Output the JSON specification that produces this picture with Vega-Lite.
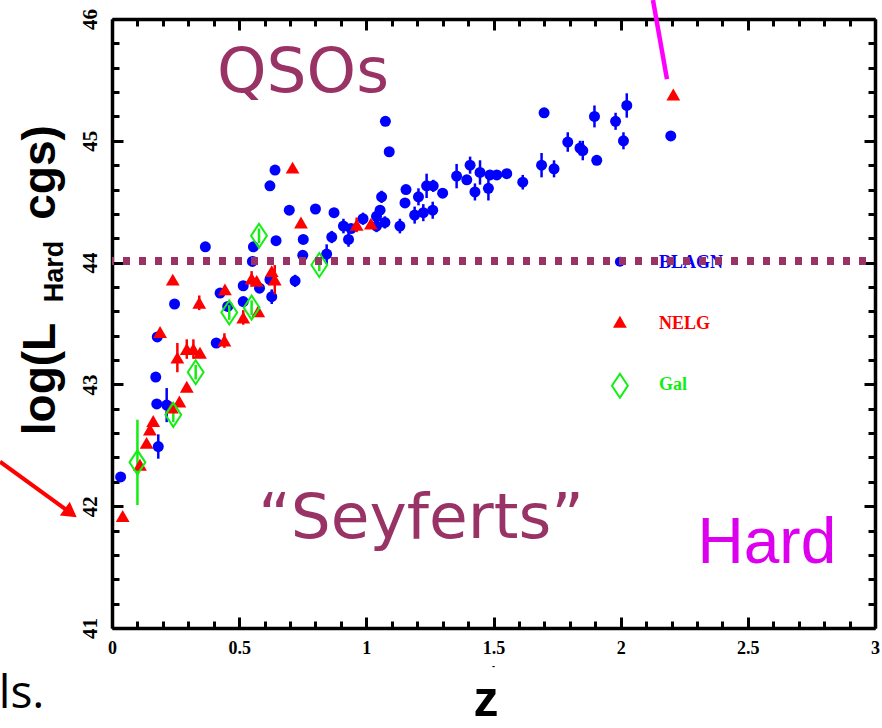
{
  "$schema": "https://vega.github.io/schema/vega-lite/v6.json",
  "width": 763,
  "height": 609,
  "autosize": "none",
  "padding": {"left": 112, "top": 19, "right": 7, "bottom": 100},
  "background": "white",
  "config": {
    "view": {"stroke": null},
    "axis": {"grid": false, "title": null,
      "labelFont": "Liberation Serif", "labelFontWeight": "bold", "labelColor": "#000000", "labelFlush": false, "labelOverlap": false, "labelBound": false}
  },
  "datasets": {
    "pts": [
      {"z":0.034,"L":42.24,"type":"BLAGN","err":0},{"z":0.172,"L":43.06,"type":"BLAGN","err":0},{"z":0.178,"L":43.39,"type":"BLAGN","err":0},{"z":0.176,"L":42.84,"type":"BLAGN","err":0},{"z":0.215,"L":42.83,"type":"BLAGN","err":0.14},{"z":0.182,"L":42.49,"type":"BLAGN","err":0.1},{"z":0.246,"L":43.66,"type":"BLAGN","err":0},{"z":0.367,"L":44.13,"type":"BLAGN","err":0},{"z":0.41,"L":43.34,"type":"BLAGN","err":0},{"z":0.425,"L":43.75,"type":"BLAGN","err":0},{"z":0.455,"L":43.64,"type":"BLAGN","err":0},{"z":0.516,"L":43.81,"type":"BLAGN","err":0},{"z":0.516,"L":43.68,"type":"BLAGN","err":0},{"z":0.552,"L":44.01,"type":"BLAGN","err":0},{"z":0.556,"L":44.13,"type":"BLAGN","err":0},{"z":0.58,"L":43.79,"type":"BLAGN","err":0},{"z":0.621,"L":43.86,"type":"BLAGN","err":0},{"z":0.628,"L":43.72,"type":"BLAGN","err":0.06},{"z":0.621,"L":44.63,"type":"BLAGN","err":0},{"z":0.641,"L":44.76,"type":"BLAGN","err":0},{"z":0.645,"L":44.18,"type":"BLAGN","err":0},{"z":0.697,"L":44.43,"type":"BLAGN","err":0},{"z":0.72,"L":43.85,"type":"BLAGN","err":0.05},{"z":0.75,"L":44.06,"type":"BLAGN","err":0},{"z":0.752,"L":44.19,"type":"BLAGN","err":0},{"z":0.8,"L":44.44,"type":"BLAGN","err":0},{"z":0.844,"L":44.07,"type":"BLAGN","err":0.08},{"z":0.864,"L":44.21,"type":"BLAGN","err":0.05},{"z":0.873,"L":44.41,"type":"BLAGN","err":0},{"z":0.91,"L":44.3,"type":"BLAGN","err":0.06},{"z":0.93,"L":44.19,"type":"BLAGN","err":0.06},{"z":0.94,"L":44.28,"type":"BLAGN","err":0},{"z":0.987,"L":44.36,"type":"BLAGN","err":0.05},{"z":1.04,"L":44.3,"type":"BLAGN","err":0.05},{"z":1.04,"L":44.38,"type":"BLAGN","err":0},{"z":1.054,"L":44.43,"type":"BLAGN","err":0},{"z":1.06,"L":44.54,"type":"BLAGN","err":0.05},{"z":1.073,"L":44.33,"type":"BLAGN","err":0.05},{"z":1.075,"L":45.16,"type":"BLAGN","err":0},{"z":1.09,"L":44.91,"type":"BLAGN","err":0},{"z":1.132,"L":44.3,"type":"BLAGN","err":0.06},{"z":1.152,"L":44.49,"type":"BLAGN","err":0},{"z":1.156,"L":44.6,"type":"BLAGN","err":0},{"z":1.19,"L":44.39,"type":"BLAGN","err":0.07},{"z":1.205,"L":44.54,"type":"BLAGN","err":0.07},{"z":1.224,"L":44.41,"type":"BLAGN","err":0.07},{"z":1.237,"L":44.63,"type":"BLAGN","err":0.1},{"z":1.263,"L":44.63,"type":"BLAGN","err":0.05},{"z":1.261,"L":44.43,"type":"BLAGN","err":0.07},{"z":1.3,"L":44.57,"type":"BLAGN","err":0},{"z":1.355,"L":44.71,"type":"BLAGN","err":0.1},{"z":1.395,"L":44.68,"type":"BLAGN","err":0},{"z":1.408,"L":44.8,"type":"BLAGN","err":0.07},{"z":1.427,"L":44.58,"type":"BLAGN","err":0.07},{"z":1.447,"L":44.74,"type":"BLAGN","err":0.1},{"z":1.48,"L":44.61,"type":"BLAGN","err":0.1},{"z":1.486,"L":44.72,"type":"BLAGN","err":0},{"z":1.513,"L":44.72,"type":"BLAGN","err":0},{"z":1.552,"L":44.73,"type":"BLAGN","err":0},{"z":1.615,"L":44.66,"type":"BLAGN","err":0.06},{"z":1.689,"L":44.8,"type":"BLAGN","err":0.1},{"z":1.699,"L":45.23,"type":"BLAGN","err":0},{"z":1.738,"L":44.77,"type":"BLAGN","err":0.07},{"z":1.792,"L":44.99,"type":"BLAGN","err":0.08},{"z":1.84,"L":44.94,"type":"BLAGN","err":0.06},{"z":1.851,"L":44.92,"type":"BLAGN","err":0.08},{"z":1.897,"L":45.2,"type":"BLAGN","err":0.09},{"z":1.906,"L":44.84,"type":"BLAGN","err":0},{"z":1.98,"L":45.16,"type":"BLAGN","err":0.07},{"z":2.011,"L":45.0,"type":"BLAGN","err":0.07},{"z":2.024,"L":45.29,"type":"BLAGN","err":0.1},{"z":2.197,"L":45.04,"type":"BLAGN","err":0},
      {"z":0.042,"L":41.92,"type":"NELG","err":0},{"z":0.11,"L":42.34,"type":"NELG","err":0},{"z":0.136,"L":42.52,"type":"NELG","err":0},{"z":0.149,"L":42.63,"type":"NELG","err":0},{"z":0.162,"L":42.7,"type":"NELG","err":0},{"z":0.235,"L":42.81,"type":"NELG","err":0},{"z":0.265,"L":42.86,"type":"NELG","err":0},{"z":0.294,"L":42.98,"type":"NELG","err":0},{"z":0.257,"L":43.22,"type":"NELG","err":0.12},{"z":0.294,"L":43.29,"type":"NELG","err":0.08},{"z":0.32,"L":43.29,"type":"NELG","err":0.08},{"z":0.346,"L":43.26,"type":"NELG","err":0},{"z":0.189,"L":43.43,"type":"NELG","err":0},{"z":0.239,"L":43.86,"type":"NELG","err":0},{"z":0.343,"L":43.67,"type":"NELG","err":0.06},{"z":0.442,"L":43.36,"type":"NELG","err":0.06},{"z":0.444,"L":43.78,"type":"NELG","err":0},{"z":0.516,"L":43.55,"type":"NELG","err":0.06},{"z":0.575,"L":43.6,"type":"NELG","err":0},{"z":0.549,"L":43.87,"type":"NELG","err":0.06},{"z":0.569,"L":43.85,"type":"NELG","err":0},{"z":0.628,"L":43.93,"type":"NELG","err":0},{"z":0.64,"L":43.86,"type":"NELG","err":0.12},{"z":0.71,"L":44.78,"type":"NELG","err":0},{"z":0.743,"L":44.33,"type":"NELG","err":0},{"z":0.962,"L":44.31,"type":"NELG","err":0.06},{"z":1.018,"L":44.32,"type":"NELG","err":0},{"z":2.207,"L":45.38,"type":"NELG","err":0.03},
      {"z":0.1,"L":42.36,"type":"Gal","err":0.35},{"z":0.241,"L":42.75,"type":"Gal","err":0.06},{"z":0.329,"L":43.1,"type":"Gal","err":0.06},{"z":0.461,"L":43.59,"type":"Gal","err":0.06},{"z":0.549,"L":43.63,"type":"Gal","err":0.06},{"z":0.578,"L":44.22,"type":"Gal","err":0.06},{"z":0.815,"L":43.98,"type":"Gal","err":0.05}
    ],
    "legend": [
      {"z":1.997,"L":44.007,"tz":2.151,"tL":43.997,"type":"BLAGN"},
      {"z":1.997,"L":43.515,"tz":2.151,"tL":43.492,"type":"NELG"},
      {"z":1.997,"L":42.989,"tz":2.151,"tL":42.995,"type":"Gal"}
    ],
    "lines": [
      {"name":"threshold","z":0,"z2":3,"L":44.013,"L2":44.013},
      {"name":"arrow","z":-0.4404,"L":42.365,"z2":-0.1622,"L2":41.944},
      {"name":"pointer","z":2.127,"L":46.156,"z2":2.182,"L2":45.507}
    ]
  },
  "layer": [
    {
      "data": {"name": "pts"},
      "transform": [{"filter": "datum.type === 'BLAGN'"}],
      "mark": {"type": "point", "shape": "circle", "filled": true, "color": "#0000ff", "size": 121, "opacity": 1},
      "encoding": {
        "x": {"field": "z", "type": "quantitative", "scale": {"domain": [0, 3], "nice": false, "zero": false},
          "axis": {"orient": "bottom",
            "values": [0,0.1,0.2,0.3,0.4,0.5,0.6,0.7,0.8,0.9,1,1.1,1.2,1.3,1.4,1.5,1.6,1.7,1.8,1.9,2,2.1,2.2,2.3,2.4,2.5,2.6,2.7,2.8,2.9,3],
            "domainColor": "#000000", "domainWidth": 3.5,
            "tickSize": {"condition": {"test": "abs(round(datum.value*10)%5)==0", "value": -11}, "value": -7}, "tickWidth": 3, "tickColor": "#000000",
            "labelExpr": "abs(round(datum.value*10)%5)==0 ? format(datum.value,'~g') : ''",
            "labelFontSize": 18, "labelPadding": 22}},
        "y": {"field": "L", "type": "quantitative", "scale": {"domain": [41, 46], "nice": false, "zero": false},
          "axis": {"orient": "left",
            "values": [41,41.2,41.4,41.6,41.8,42,42.2,42.4,42.6,42.8,43,43.2,43.4,43.6,43.8,44,44.2,44.4,44.6,44.8,45,45.2,45.4,45.6,45.8,46],
            "domainColor": "#000000", "domainWidth": 3.5,
            "tickSize": {"condition": {"test": "abs(datum.value-round(datum.value))<0.001", "value": -11}, "value": -7}, "tickWidth": 3, "tickColor": "#000000",
            "labelExpr": "abs(datum.value-round(datum.value))<0.001 ? format(datum.value,'d') : ''",
            "labelFontSize": 21, "labelAngle": 270, "labelAlign": "center", "labelBaseline": "bottom", "labelPadding": 23}}
      }
    },
    {
      "data": {"name": "pts"},
      "transform": [{"filter": "datum.err > 0"}],
      "mark": {"type": "errorbar", "thickness": 2.5},
      "encoding": {
        "x": {"field": "z", "type": "quantitative", "axis": null},
        "y": {"field": "L", "type": "quantitative", "axis": null},
        "yError": {"field": "err"},
        "color": {"field": "type", "type": "nominal", "legend": null, "scale": {"domain": ["BLAGN", "NELG", "Gal"], "range": ["#0000ff", "#ff0000", "#11ee11"]}}
      }
    },
    {
      "data": {"name": "pts"},
      "transform": [{"filter": "datum.type === 'NELG'"}],
      "mark": {"type": "point", "shape": "triangle-up", "filled": true, "color": "#ff0000", "size": 190, "opacity": 1},
      "encoding": {
        "x": {"field": "z", "type": "quantitative", "axis": null},
        "y": {"field": "L", "type": "quantitative", "axis": null}
      }
    },
    {
      "data": {"name": "pts"},
      "transform": [{"filter": "datum.type === 'Gal'"}],
      "mark": {"type": "point", "shape": "M0,-1L0.66,0L0,1L-0.66,0Z", "filled": false, "color": "#11ee11", "strokeWidth": 2, "size": 576, "opacity": 1},
      "encoding": {
        "x": {"field": "z", "type": "quantitative", "axis": null},
        "y": {"field": "L", "type": "quantitative", "axis": null}
      }
    },
    {
      "data": {"name": "legend"},
      "transform": [{"filter": "datum.type === 'BLAGN'"}],
      "mark": {"type": "point", "shape": "circle", "filled": true, "color": "#0000ff", "size": 100, "opacity": 1},
      "encoding": {"x": {"field": "z", "type": "quantitative", "axis": null}, "y": {"field": "L", "type": "quantitative", "axis": null}}
    },
    {
      "data": {"name": "legend"},
      "transform": [{"filter": "datum.type === 'NELG'"}],
      "mark": {"type": "point", "shape": "triangle-up", "filled": true, "color": "#ff0000", "size": 190, "opacity": 1},
      "encoding": {"x": {"field": "z", "type": "quantitative", "axis": null}, "y": {"field": "L", "type": "quantitative", "axis": null}}
    },
    {
      "data": {"name": "legend"},
      "transform": [{"filter": "datum.type === 'Gal'"}],
      "mark": {"type": "point", "shape": "M0,-1L0.66,0L0,1L-0.66,0Z", "filled": false, "color": "#11ee11", "strokeWidth": 2, "size": 576, "opacity": 1},
      "encoding": {"x": {"field": "z", "type": "quantitative", "axis": null}, "y": {"field": "L", "type": "quantitative", "axis": null}}
    },
    {
      "data": {"name": "legend"},
      "mark": {"type": "text", "align": "left", "baseline": "middle", "font": "Liberation Serif", "fontWeight": "bold", "fontSize": 18},
      "encoding": {
        "x": {"field": "tz", "type": "quantitative", "axis": null},
        "y": {"field": "tL", "type": "quantitative", "axis": null},
        "text": {"field": "type"},
        "color": {"field": "type", "type": "nominal", "legend": null}
      }
    },
    {
      "data": {"name": "lines"},
      "transform": [{"filter": "datum.name === 'threshold'"}],
      "mark": {"type": "rule", "color": "#993366", "strokeWidth": 8, "strokeDash": [7, 9], "strokeDashOffset": 5, "strokeCap": "butt"},
      "encoding": {
        "x": {"field": "z", "type": "quantitative",
          "axis": {"orient": "top", "labels": false,
            "values": [0,0.1,0.2,0.3,0.4,0.5,0.6,0.7,0.8,0.9,1,1.1,1.2,1.3,1.4,1.5,1.6,1.7,1.8,1.9,2,2.1,2.2,2.3,2.4,2.5,2.6,2.7,2.8,2.9,3],
            "domainColor": "#000000", "domainWidth": 3.5,
            "tickSize": {"condition": {"test": "abs(round(datum.value*10)%5)==0", "value": -11}, "value": -7}, "tickWidth": 3, "tickColor": "#000000"}},
        "x2": {"field": "z2"},
        "y": {"field": "L", "type": "quantitative",
          "axis": {"orient": "right", "labels": false,
            "values": [41,41.2,41.4,41.6,41.8,42,42.2,42.4,42.6,42.8,43,43.2,43.4,43.6,43.8,44,44.2,44.4,44.6,44.8,45,45.2,45.4,45.6,45.8,46],
            "domainColor": "#000000", "domainWidth": 3.5,
            "tickSize": {"condition": {"test": "abs(datum.value-round(datum.value))<0.001", "value": -11}, "value": -7}, "tickWidth": 3, "tickColor": "#000000"}}
      }
    },
    {
      "data": {"name": "lines"},
      "transform": [{"filter": "datum.name === 'arrow'"}],
      "mark": {"type": "rule", "color": "#ff0000", "strokeWidth": 4},
      "encoding": {
        "x": {"field": "z", "type": "quantitative", "axis": null}, "x2": {"field": "z2"},
        "y": {"field": "L", "type": "quantitative", "axis": null}, "y2": {"field": "L2"}
      }
    },
    {
      "data": {"name": "lines"},
      "transform": [{"filter": "datum.name === 'arrow'"}],
      "mark": {"type": "point", "shape": "triangle-right", "filled": true, "color": "#ff0000", "size": 289, "angle": 36, "opacity": 1},
      "encoding": {
        "x": {"field": "z2", "type": "quantitative", "axis": null},
        "y": {"field": "L2", "type": "quantitative", "axis": null}
      }
    },
    {
      "data": {"name": "lines"},
      "transform": [{"filter": "datum.name === 'pointer'"}],
      "mark": {"type": "rule", "color": "#ff00ff", "strokeWidth": 4.5},
      "encoding": {
        "x": {"field": "z", "type": "quantitative", "axis": null}, "x2": {"field": "z2"},
        "y": {"field": "L", "type": "quantitative", "axis": null}, "y2": {"field": "L2"}
      }
    },
    {
      "data": {"values": [{"z": 0.751, "L": 45.4, "label": "QSOs"}, {"z": 1.215, "L": 41.739, "label": "“Seyferts”"}]},
      "mark": {"type": "text", "align": "center", "baseline": "alphabetic", "font": "DejaVu Sans", "fontSize": 63, "color": "#993366"},
      "encoding": {"x": {"field": "z", "type": "quantitative", "axis": null}, "y": {"field": "L", "type": "quantitative", "axis": null}, "text": {"field": "label"}}
    },
    {
      "data": {"values": [{"z": 2.575, "L": 41.534, "label": "Hard"}]},
      "mark": {"type": "text", "align": "center", "baseline": "alphabetic", "font": "Liberation Sans", "fontSize": 64, "color": "#dd00ee"},
      "encoding": {"x": {"field": "z", "type": "quantitative", "axis": null}, "y": {"field": "L", "type": "quantitative", "axis": null}, "text": {"field": "label"}}
    },
    {
      "data": {"values": [{"z": -0.2241, "L": 43.044, "label": "log(L"}, {"z": -0.2241, "L": 44.74, "label": "cgs)"}]},
      "mark": {"type": "text", "align": "center", "baseline": "alphabetic", "angle": 270, "font": "Liberation Sans", "fontWeight": "bold", "fontSize": 46, "color": "black"},
      "encoding": {"x": {"field": "z", "type": "quantitative", "axis": null}, "y": {"field": "L", "type": "quantitative", "axis": null}, "text": {"field": "label"}}
    },
    {
      "data": {"values": [{"z": -0.1927, "L": 43.927, "label": "Hard"}]},
      "mark": {"type": "text", "align": "center", "baseline": "alphabetic", "angle": 270, "font": "Liberation Sans", "fontWeight": "bold", "fontSize": 27, "color": "black"},
      "encoding": {"x": {"field": "z", "type": "quantitative", "axis": null}, "y": {"field": "L", "type": "quantitative", "axis": null}, "text": {"field": "label"}}
    },
    {
      "data": {"values": [{"z": 1.4705, "L": 40.277, "label": "z"}]},
      "mark": {"type": "text", "align": "center", "baseline": "alphabetic", "font": "Liberation Sans", "fontWeight": "bold", "fontSize": 50, "color": "black"},
      "encoding": {"x": {"field": "z", "type": "quantitative", "axis": null}, "y": {"field": "L", "type": "quantitative", "axis": null}, "text": {"field": "label"}}
    },
    {
      "data": {"values": [{"z": 1.5, "L": 40.69, "label": "-"}]},
      "mark": {"type": "text", "align": "center", "baseline": "middle", "font": "Liberation Sans", "fontWeight": "bold", "fontSize": 9, "color": "black"},
      "encoding": {"x": {"field": "z", "type": "quantitative", "axis": null}, "y": {"field": "L", "type": "quantitative", "axis": null}, "text": {"field": "label"}}
    },
    {
      "data": {"values": [{"z": -0.445, "L": 40.343, "label": "ls."}]},
      "mark": {"type": "text", "align": "left", "baseline": "alphabetic", "font": "Open Sans", "fontSize": 46, "color": "black"},
      "encoding": {"x": {"field": "z", "type": "quantitative", "axis": null}, "y": {"field": "L", "type": "quantitative", "axis": null}, "text": {"field": "label"}}
    }
  ],
  "resolve": {"axis": {"x": "independent", "y": "independent"}}
}
